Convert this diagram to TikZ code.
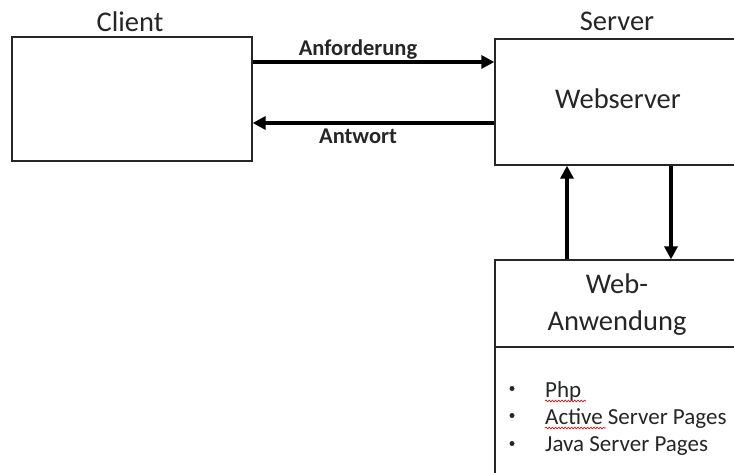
\documentclass[tikz,border=0pt]{standalone}
\usepackage{fontspec}
\setmainfont{Carlito}
\usetikzlibrary{arrows.meta,decorations.pathmorphing}
\begin{document}
\begin{tikzpicture}[x=1pt,y=-1pt,
  box/.style={draw=black!85, line width=1.3pt, inner sep=0pt},
  flow/.style={line width=3.5pt, draw=black, -{Triangle[length=13pt,width=13pt]}},
  big/.style={font=\fontsize{28.5}{34}\selectfont, anchor=base, text=black!85},
  lbl/.style={font=\fontsize{22.5}{27}\selectfont\bfseries, anchor=base, text=black!85},
  item/.style={font=\fontsize{23}{28}\selectfont, anchor=base west, inner sep=0pt, text=black!85},
  dot/.style={circle, fill=black!85, inner sep=0pt, minimum size=5pt},
  squiggle/.style={draw=red!85!black, line width=0.6pt, decorate,
    decoration={snake, amplitude=0.9pt, segment length=3.2pt}}
]
\useasboundingbox (0,0) rectangle (734,472);
\clip (0,0) rectangle (734,472);
\fill[white] (0,0) rectangle (734,472);

% boxes
\node[box, minimum width=240pt, minimum height=124pt] (client) at (132,99) {};
\node[box, minimum width=255pt, minimum height=126pt] (server) at (622.5,102) {};
\node[box, minimum width=255pt, minimum height=87pt] (apphead) at (622.5,303.5) {};
\node[box, minimum width=255pt, minimum height=143pt] (appbody) at (622.5,418.5) {};

% titles
\node[big] (clientlbl) at (130,31) {Client};
\node[big] (serverlbl) at (617,30) {Server};
\node[big] (websrv) at (618,108) {Webserver};
\node[big] (appl1) at (617,293) {Web-};
\node[big] (appl2) at (617,330) {Anwendung};

% request / response
\draw[flow] (client.east |- 0,62) -- (server.west |- 0,62);
\draw[flow] (server.west |- 0,123) -- (client.east |- 0,123);
\node[lbl] (req) at (358,55) {Anforderung};
\node[lbl] (resp) at (358,143) {Antwort};

% webserver <-> web application
\draw[flow] (apphead.north -| 567,0) -- (server.south -| 567,0);
\draw[flow] (server.south -| 671,0) -- (apphead.north -| 671,0);

% technology list
\node[dot] (b1) at (512,388.5) {};
\node[dot] (b2) at (512,415.5) {};
\node[dot] (b3) at (512,443.5) {};
\node[item] (t1) at (545,397) {Php};
\node[item] (t2) at (545,424) {Active Server Pages};
\node[item] (t3) at (545,451) {Java Server Pages};
\draw[squiggle] (545,401) -- (586,401);
\draw[squiggle] (545,428) -- (606,428);
\end{tikzpicture}
\end{document}
